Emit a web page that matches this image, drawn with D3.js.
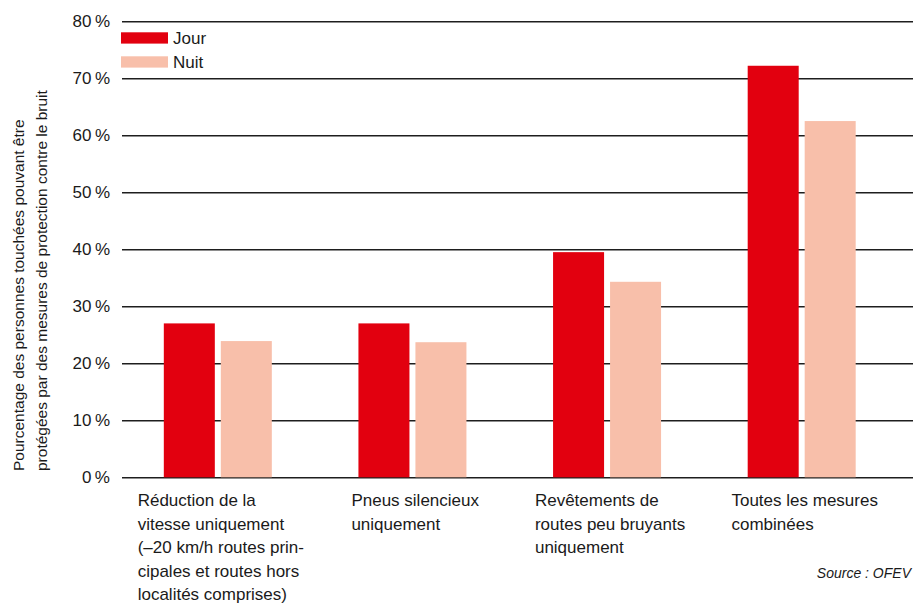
<!DOCTYPE html>
<html>
<head>
<meta charset="utf-8">
<script src="https://cdn.jsdelivr.net/npm/d3@7"></script>
<style>
  html, body { margin: 0; padding: 0; background: #fff; }
  svg { display: block; }
  .cond { font-family: "Liberation Sans Narrow", "Liberation Sans", Arial, sans-serif; fill: #1a1a1a; }
  .reg { font-family: "Liberation Sans", Arial, sans-serif; fill: #1a1a1a; }
</style>
</head>
<body>
<svg id="chart" width="913" height="605"></svg>
<script>
// Share of affected people who could be protected, per noise-reduction measure
const categories = [
  ["Réduction de la", "vitesse uniquement", "(–20 km/h routes prin-", "cipales et routes hors", "localités comprises)"],
  ["Pneus silencieux", "uniquement"],
  ["Revêtements de", "routes peu bruyants", "uniquement"],
  ["Toutes les mesures", "combinées"]
];
const seriesNames = ["Jour", "Nuit"];
const jour = [27, 27, 39.5, 72.2];
const nuit = [23.9, 23.7, 34.3, 62.5];
const yTicks = [0, 10, 20, 30, 40, 50, 60, 70, 80];
const yTitle = ["Pourcentage des personnes touchées pouvant être",
                "protégées par des mesures de protection contre le bruit"];
const source = "Source : OFEV";

const colors = { Jour: "#e2000f", Nuit: "#f8bfaa" };
const series = { Jour: jour, Nuit: nuit };

const svg = d3.select("#chart");
const plotLeft = 122, plotRight = 913;
const y = d3.scaleLinear().domain([0, 80]).range([477.3, 21.3]);
const x0 = d3.scaleBand().domain(d3.range(categories.length)).range([120.5, 899]);

// Gridlines with tick labels
const yAxis = d3.axisLeft(y).tickValues(yTicks)
  .tickSize(-(plotRight - plotLeft))
  .tickPadding(12)
  .tickFormat(d => d + "\u202F%");
const gy = svg.append("g").attr("transform", `translate(${plotLeft},0)`).call(yAxis);
gy.select(".domain").remove();
gy.selectAll(".tick line").attr("stroke", "#1e1e1e").attr("stroke-width", 1.4);
gy.selectAll(".tick text")
  .attr("class", "cond")
  .attr("font-size", 17)
  .attr("x", -12);

// Bars
const barGroupWidth = 108;
categories.forEach((cat, i) => {
  const c = x0(i) + x0.bandwidth() / 2;
  const x1 = d3.scaleBand().domain(seriesNames)
    .range([c - barGroupWidth / 2, c + barGroupWidth / 2]).paddingInner(0.105);
  seriesNames.forEach(s => {
    svg.append("rect")
      .attr("x", x1(s))
      .attr("width", x1.bandwidth())
      .attr("y", y(series[s][i]))
      .attr("height", y(0) - y(series[s][i]))
      .attr("fill", colors[s]);
  });

  // Category label: left-aligned block centred under the pair of bars
  const t = svg.append("text").attr("class", "cond").attr("font-size", 17);
  cat.forEach((line, k) => {
    t.append("tspan").attr("x", 0).attr("y", 506 + k * 23.6).text(line);
  });
  const w = t.node().getBBox().width;
  t.attr("transform", `translate(${c - w / 2 + 3},0)`);
});

// Legend
seriesNames.forEach((s, k) => {
  const ly = 32.3 + k * 24;
  svg.append("rect").attr("x", 121).attr("y", ly).attr("width", 47).attr("height", 11.3)
    .attr("fill", colors[s]);
  svg.append("text").attr("class", "cond").attr("font-size", 17)
    .attr("x", 173).attr("y", ly + 11.5).text(s);
});

// Y axis title (two lines, rotated)
yTitle.forEach((line, k) => {
  svg.append("text").attr("class", "reg").attr("font-size", 15.5)
    .attr("transform", `translate(${24 + k * 23},471) rotate(-90)`)
    .attr("text-anchor", "start")
    .text(line);
});

// Source note
svg.append("text").attr("class", "cond").attr("font-size", 14)
  .attr("font-style", "italic")
  .attr("x", 911).attr("y", 578).attr("text-anchor", "end")
  .text(source);
</script>
</body>
</html>
